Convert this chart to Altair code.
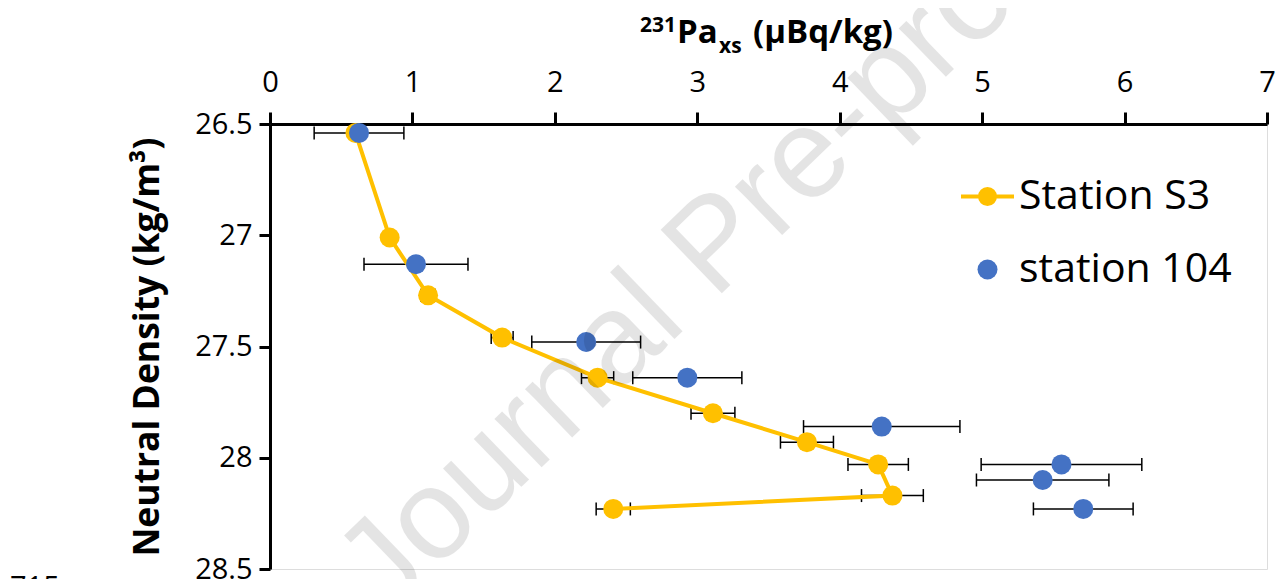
import altair as alt
import pandas as pd

# ---------------- data ----------------
stations = ["Station S3", "station 104"]
colors = ["#FFC000", "#4472C4"]

s3_pa = [0.60, 0.84, 1.11, 1.63, 2.30, 3.11, 3.77, 4.27, 4.37, 2.41]
s3_density = [26.54, 27.01, 27.27, 27.46, 27.64, 27.80, 27.93, 28.03, 28.17, 28.23]
s3_err = [0.03, 0.04, 0.05, 0.077, 0.113, 0.154, 0.186, 0.212, 0.217, 0.12]

st104_pa = [0.625, 1.025, 2.22, 2.93, 4.295, 5.557, 5.425, 5.71]
st104_density = [26.54, 27.13, 27.48, 27.64, 27.86, 28.03, 28.10, 28.23]
st104_err = [0.315, 0.365, 0.382, 0.383, 0.549, 0.564, 0.465, 0.35]

x_ticks = [0, 1, 2, 3, 4, 5, 6, 7]
y_ticks = [26.5, 27.0, 27.5, 28.0, 28.5]

y_title = "Neutral Density (kg/m³)"
x_title_parts = ["231", "Pa", "xs", "(µBq/kg)"]
watermark = ["Journal Pre-proof"]
page_number = ["715"]

rows = []
for i, (x, y, e) in enumerate(zip(s3_pa, s3_density, s3_err)):
    rows.append({"station": stations[0], "pa": x, "density": y,
                 "lo": x - e, "hi": x + e, "order": i})
for i, (x, y, e) in enumerate(zip(st104_pa, st104_density, st104_err)):
    rows.append({"station": stations[1], "pa": x, "density": y,
                 "lo": x - e, "hi": x + e, "order": i})
df = pd.DataFrame(rows)

FONT = "Open Sans"
W, H = 997, 445

x_scale = alt.Scale(domain=[0, 7], nice=False, zero=False)
y_scale = alt.Scale(domain=[26.5, 28.5], reverse=True, nice=False, zero=False)

x_axis = alt.Axis(orient="top", values=x_ticks, format="d", title=None,
                  domainColor="black", domainWidth=3, tickColor="black",
                  tickWidth=3, tickSize=12, labelFont=FONT, labelFontSize=29,
                  labelColor="black", labelPadding=15, labelFlush=False,
                  grid=False)
y_axis = alt.Axis(values=y_ticks, format="~g", title=y_title,
                  titleFont=FONT, titleFontSize=35.5, titleFontWeight="bold",
                  titleColor="black", titlePadding=29,
                  domainColor="black", domainWidth=3, tickColor="black",
                  tickWidth=3, tickSize=11, labelFont=FONT, labelFontSize=29,
                  labelColor="black", labelPadding=7, grid=False)

Y = alt.Y("density:Q", scale=y_scale, axis=y_axis)

base = alt.Chart(df)
s3 = base.transform_filter(alt.datum.station == stations[0])
s104 = base.transform_filter(alt.datum.station == stations[1])

err = base.mark_rule(color="black", strokeWidth=1.5).encode(
    x=alt.X("lo:Q", scale=x_scale, axis=x_axis), x2="hi:Q", y=Y)
cap_lo = base.mark_tick(orient="vertical", color="black", thickness=1.5,
                        size=13, opacity=1).encode(
    x=alt.X("lo:Q", scale=x_scale), y=alt.Y("density:Q", scale=y_scale))
cap_hi = base.mark_tick(orient="vertical", color="black", thickness=1.5,
                        size=13, opacity=1).encode(
    x=alt.X("hi:Q", scale=x_scale), y=alt.Y("density:Q", scale=y_scale))

line = s3.mark_line(color=colors[0], strokeWidth=4).encode(
    x=alt.X("pa:Q", scale=x_scale), y=alt.Y("density:Q", scale=y_scale),
    order="order:Q")

s3_path = ("M-2.65,0L2.65,0M0.75,0A0.75,0.75,0,1,1,-0.75,0"
           "A0.75,0.75,0,1,1,0.75,0Z")

legend_common = dict(
    title=None, orient="none", legendX=697, padding=0,
    labelFont=FONT, labelFontSize=41, labelColor="black", labelOffset=11,
    labelLimit=600, symbolSize=400, symbolOpacity=1)
legend_s3 = alt.Legend(
    legendY=52, symbolType=s3_path, symbolStrokeColor=colors[0],
    symbolStrokeWidth=4, **legend_common)
legend_104 = alt.Legend(
    legendY=125, symbolType="circle", symbolStrokeWidth=0, **legend_common)

pts_s3 = s3.mark_point(filled=True, size=400, opacity=1).encode(
    x=alt.X("pa:Q", scale=x_scale), y=alt.Y("density:Q", scale=y_scale),
    fill=alt.Fill("station:N",
                  scale=alt.Scale(domain=[stations[0]], range=[colors[0]]),
                  legend=legend_s3))
pts_104 = s104.mark_point(filled=True, size=400, opacity=1).encode(
    x=alt.X("pa:Q", scale=x_scale), y=alt.Y("density:Q", scale=y_scale),
    color=alt.Color("station:N",
                    scale=alt.Scale(domain=[stations[1]], range=[colors[1]]),
                    legend=legend_104))

tdf = pd.DataFrame({"t": [0]})
def label(text, x, y, size, align="left"):
    return alt.Chart(tdf).mark_text(
        text=text, font=FONT, fontSize=size, fontWeight="bold",
        color="black", align=align, baseline="alphabetic"
    ).encode(x=alt.value(x), y=alt.value(y))

t231 = label(x_title_parts[0], 406, -92, 21, align="right")
tpa = label(x_title_parts[1], 407, -81, 33)
txs = label(x_title_parts[2], 449, -71, 21)
tunit = label(x_title_parts[3], 483, -81, 33)

wm = alt.Chart(tdf).mark_text(
    text=watermark[0], font="Liberation Sans", fontSize=128, color="black",
    opacity=0.1, align="center", baseline="middle", angle=316
).encode(x=alt.value(446), y=alt.value(122))

pn = alt.Chart(tdf).mark_text(
    text=page_number[0], font=FONT, fontSize=29, color="black",
    align="left", baseline="top"
).encode(x=alt.value(-260), y=alt.value(450))

chart = alt.layer(
    err, cap_lo, cap_hi, line, pts_s3, pts_104, t231, tpa, txs, tunit, wm, pn
).resolve_scale(color="independent", fill="independent").properties(
    width=W, height=H,
    autosize=alt.AutoSizeParams(type="none"),
    padding={"left": 262, "top": 116, "right": 8, "bottom": 10},
).configure_view(stroke=None).configure(background="white")

chart.save("out.html", embed_options={"renderer": "svg", "actions": False})
